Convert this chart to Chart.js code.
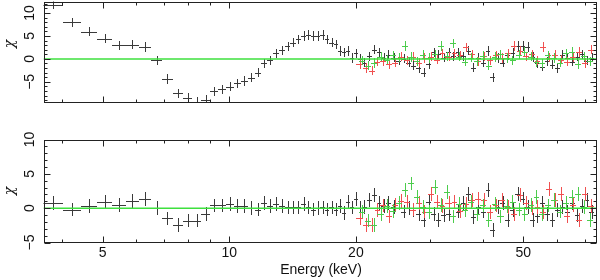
<!DOCTYPE html>
<html><head><meta charset="utf-8">
<script src="https://cdn.jsdelivr.net/npm/chart.js@4.4.1/dist/chart.umd.min.js"></script>
<style>
html,body{margin:0;padding:0;background:#fff;}
#wrap{position:relative;width:600px;height:280px;background:#fff;}
canvas{position:absolute;left:0;}
</style></head><body>
<div id="wrap">
<canvas id="c1" width="600" height="120" style="top:0;width:600px;height:120px"></canvas>
<canvas id="c2" width="600" height="160" style="top:120px;width:600px;height:160px"></canvas>
</div>
<script>
// ---- axes ----
const xMin = 3.62, xMax = 74.6;
const xLabelTicks = [5, 10, 20, 50];
const xMinorTicks = [4, 6, 7, 8, 9, 30, 40, 60, 70];
const yRangeTop = [-9.5, 12.5];
const yRangeBottom = [-5, 10];
const yLabelTicks = [-5, 0, 5, 10];
const xTitle = 'Energy (keV)';
const yTitle = 'χ';

// ---- black spectrum ----
const energyBlack = [3.81,4.23,4.64,5.06,5.47,5.89,6.30,6.72,7.13,7.55,7.96,8.38,8.79,9.21,9.62,10.04,10.45,10.87,11.28,11.70,12.11,12.53,12.94,13.36,13.77,14.19,14.60,15.02,15.43,15.85,16.26,16.68,17.09,17.51,17.92,18.34,18.75,19.17,19.58,20.00,20.41,
 20.9,21.5,22.1,22.7,23.3,23.9,24.6,25.3,26.0,26.7,27.4,28.2,29.0,29.8,30.6,31.4,32.3,33.2,34.1,35.0,36.0,37.0,38.0,39.0,40.1,41.2,42.3,43.5,44.7,45.9,47.2,48.5,49.8,51.2,52.6,54.0,55.5,57.0,58.6,60.2,61.9,63.6,65.3,67.1,68.9,70.8,72.7];
const chiBlackTop = [11.8,8.0,5.9,4.4,3.0,3.1,2.6,-0.3,-4.4,-7.5,-8.5,-9.3,-8.9,-7.1,-6.6,-6.1,-5.3,-4.8,-4.1,-3.0,-1.0,-0.3,1.2,1.9,2.7,3.5,4.3,5.0,5.2,5.0,5.0,5.2,4.3,3.5,3.2,1.7,1.4,1.7,0.2,1.2,0.0,
 -0.8,0.6,2.0,1.4,0.3,0.9,0.3,-0.4,0.0,-0.8,-1.5,-2.0,-3.0,-1.2,1.4,1.0,0.3,1.4,0.6,1.4,0.6,1.8,-1.9,0.3,-0.8,1.7,-4.0,0.2,-0.8,0.8,1.3,2.8,2.8,2.6,0.4,-0.9,-1.7,-0.5,-1.3,-2.0,0.9,0.2,-0.6,0.5,1.0,-0.4,0.3];
const chiBlackBottom = [0.7,-0.2,0.3,0.9,0.5,1.0,1.3,0.0,-1.5,-2.4,-1.8,-1.8,-0.9,0.4,0.4,0.6,0.3,0.3,0.0,-0.2,0.8,0.3,0.6,0.3,0.1,0.1,0.1,0.6,0.1,-0.2,0.0,0.1,-0.2,0.1,-0.2,0.3,-0.7,0.9,0.1,1.3,0.0,
 0.2,1.2,1.9,0.7,0.3,0.7,0.2,0.7,-0.5,0.0,-0.3,-0.8,-1.7,0.9,-0.8,-1.7,-1.0,-0.8,-1.2,-0.5,0.7,2.1,-1.3,0.2,-0.5,2.6,-3.2,0.2,0.7,-1.7,-0.3,2.1,1.4,0.2,-1.7,-1.2,0.7,-0.8,-1.7,-0.3,0.2,-0.5,0.8,-1.0,0.3,1.2,-0.6];

// ---- red spectrum ----
const energyRed = [20.4,21.1,21.8,22.5,23.2,24.0,24.8,25.6,26.4,27.3,28.2,29.1,30.1,31.1,32.1,33.2,34.3,35.4,36.6,37.8,39.0,40.3,41.6,43.0,44.4,45.9,47.4,49.0,50.6,52.3,54.0,55.8,57.6,59.5,61.5,63.5,65.6,67.8,70.0,72.3];
const chiRedTop = [-1.1,-2.0,-2.6,-0.6,-0.5,-1.2,-0.8,0.5,-0.3,0.5,-0.8,0.2,0.5,-0.2,1.2,0.5,1.2,0.8,2.5,1.0,-0.5,0.6,-0.3,0.8,0.2,1.2,2.8,1.8,0.6,1.0,-0.4,2.6,0.3,0.9,-0.2,-0.6,0.4,1.5,-0.9,2.0];
const chiRedBottom = [-1.5,-2.4,-2.5,-0.3,0.4,-1.2,0.5,1.0,0.9,-0.2,0.7,-0.5,2.1,0.9,0.3,0.7,0.9,-0.4,0.6,1.2,1.4,1.2,-0.6,0.4,1.2,0.2,-0.8,1.9,0.8,0.0,0.2,-0.6,2.8,1.2,2.1,-1.2,0.5,-1.7,2.1,0.3];

// ---- green spectrum ----
const energyGreen = [20.7,21.4,22.1,22.9,23.7,24.5,25.3,26.1,27.0,27.9,28.8,29.8,30.8,31.8,32.9,34.0,35.1,36.3,37.5,38.7,40.0,41.3,42.7,44.1,45.6,47.1,48.7,50.3,52.0,53.7,55.5,57.3,59.2,61.2,63.2,65.3,67.5,69.7,72.0];
const chiGreenTop = [-0.4,-1.5,-0.9,0.5,-0.2,0.8,0.3,2.8,0.4,-0.5,0.9,0.2,1.0,2.8,0.6,3.4,0.5,-0.6,0.3,-0.5,0.7,-1.5,0.4,1.0,0.2,-0.3,0.9,1.6,0.5,-0.7,-1.0,0.8,0.2,-0.8,1.2,1.5,-1.2,0.6,-0.5];
const chiGreenBottom = [-0.5,-1.8,-2.5,-0.8,0.3,-0.4,0.8,2.6,3.6,1.6,0.2,-0.6,3.1,0.5,2.4,-1.2,0.6,-0.3,0.9,-0.8,0.4,-1.7,0.6,-1.2,0.3,0.9,-0.2,-0.8,0.5,1.6,-0.8,0.4,1.2,-0.5,0.7,1.6,2.1,0.2,-1.7];

const chiError = 1; // residuals in units of sigma
const modelLevel = 0;

// bin edges from adjacent centres
function binEdges(e) {
  return e.map((v, i) => {
    const lo = i > 0 ? (e[i - 1] + v) / 2 : v - (e[1] - v) / 2;
    const hi = i < e.length - 1 ? (v + e[i + 1]) / 2 : v + (v - e[i - 1]) / 2;
    return [lo, hi];
  });
}
function pts(e, c) { return e.map((v, i) => ({x: v, y: c[i]})); }

const errorBars = {
  id: 'errorBars',
  beforeDatasetsDraw(chart) {
    const {ctx, chartArea: a} = chart;
    const xs = chart.scales.x, ys = chart.scales.y;
    ctx.save();
    ctx.beginPath(); ctx.rect(a.left, a.top, a.right - a.left, a.bottom - a.top); ctx.clip();
    chart.data.datasets.forEach(ds => {
      if (!ds.bins) return;
      ctx.strokeStyle = ds.borderColor; ctx.lineWidth = 1;
      ctx.beginPath();
      ds.data.forEach((p, j) => {
        const px = Math.round(xs.getPixelForValue(p.x)) + 0.5, py = Math.round(ys.getPixelForValue(p.y)) + 0.5;
        const x0 = Math.round(xs.getPixelForValue(ds.bins[j][0])), x1 = Math.round(xs.getPixelForValue(ds.bins[j][1]));
        const y0 = Math.round(ys.getPixelForValue(p.y - ds.err)), y1 = Math.round(ys.getPixelForValue(p.y + ds.err));
        ctx.moveTo(x0, py); ctx.lineTo(x1, py);
        ctx.moveTo(px, y0); ctx.lineTo(px, y1);
      });
      ctx.stroke();
    });
    ctx.restore();
  }
};

const frame = {
  id: 'frame',
  afterDraw(chart, args, o) {
    const {ctx, chartArea: a} = chart;
    const xs = chart.scales.x, ys = chart.scales.y;
    ctx.save();
    ctx.strokeStyle = '#222'; ctx.lineWidth = 1;
    const L = Math.round(a.left) + 0.5, R = Math.round(a.right) - 0.5, T = Math.round(a.top) + 0.5, B = Math.round(a.bottom) - 0.5;
    ctx.strokeRect(L, T, R - L, B - T);
    ctx.beginPath();
    const xt = (v, len) => { const p = Math.round(xs.getPixelForValue(v)) + 0.5; ctx.moveTo(p, B); ctx.lineTo(p, B - len); ctx.moveTo(p, T); ctx.lineTo(p, T + len); };
    xLabelTicks.forEach(v => xt(v, 6));
    xMinorTicks.forEach(v => xt(v, 3));
    const [ymin, ymax] = [ys.min, ys.max];
    for (let v = Math.ceil(ymin); v <= Math.floor(ymax); v++) {
      const len = (v % 5 === 0) ? 6 : 3;
      const p = Math.round(ys.getPixelForValue(v)) + 0.5;
      ctx.moveTo(L, p); ctx.lineTo(L + len, p);
      ctx.moveTo(R, p); ctx.lineTo(R - len, p);
    }
    ctx.stroke();
    ctx.fillStyle = '#111';
    ctx.font = '14px "Liberation Sans", Arial, sans-serif';
    ctx.textAlign = 'center'; ctx.textBaseline = 'middle';
    yLabelTicks.forEach(v => {
      if (v < ymin || v > ymax) return;
      const p = ys.getPixelForValue(v);
      ctx.save(); ctx.translate(30, p); ctx.rotate(-Math.PI / 2);
      ctx.fillText(v < 0 ? '\u2212' + Math.abs(v) : String(v), 0, 0);
      ctx.restore();
    });
    ctx.save(); ctx.translate(10, o.titleY); ctx.rotate(-Math.PI / 2);
    ctx.font = 'italic 14px "DejaVu Serif", serif';
    ctx.fillText(yTitle, 0, 0); ctx.restore();
    if (o.xLabels) {
      xLabelTicks.forEach(v => ctx.fillText(String(v), xs.getPixelForValue(v), B + 11));
      ctx.fillText(xTitle, (a.left + a.right) / 2 + 1, B + 28);
    }
    ctx.restore();
  }
};

function makeChart(id, yRange, cb, cr, cg, pad, titleY, xLabels) {
  return new Chart(document.getElementById(id), {
    type: 'scatter',
    data: {
      datasets: [
        {data: pts(energyBlack, cb), bins: binEdges(energyBlack), err: chiError, borderColor: '#3a3a3a', pointRadius: 0, showLine: false},
        {data: pts(energyRed, cr), bins: binEdges(energyRed), err: chiError, borderColor: '#f05050', pointRadius: 0, showLine: false},
        {data: pts(energyGreen, cg), bins: binEdges(energyGreen), err: chiError, borderColor: '#4ccc4c', pointRadius: 0, showLine: false},
        {type: 'line', data: [{x: xMin, y: modelLevel}, {x: xMax, y: modelLevel}], borderColor: '#3ee03e', borderWidth: 1.5, pointRadius: 0, fill: false}
      ]
    },
    options: {
      responsive: false, animation: false, events: [],
      layout: {padding: pad},
      plugins: {legend: {display: false}, tooltip: {enabled: false}, frame: {titleY, xLabels}},
      scales: {
        x: {type: 'logarithmic', min: xMin, max: xMax, display: false},
        y: {type: 'linear', min: yRange[0], max: yRange[1], display: false}
      }
    },
    plugins: [errorBars, frame]
  });
}

makeChart('c1', yRangeTop, chiBlackTop, chiRedTop, chiGreenTop, {left: 43.5, right: 3.5, top: 1.5, bottom: 17.5}, 44, false);
makeChart('c2', yRangeBottom, chiBlackBottom, chiRedBottom, chiGreenBottom, {left: 43.5, right: 3.5, top: 19.5, bottom: 37.5}, 71, true);
</script>
</body></html>
